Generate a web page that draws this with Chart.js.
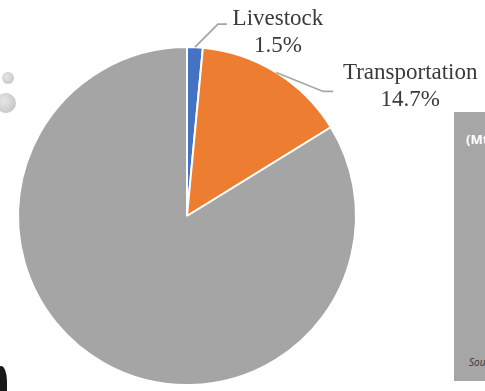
<!DOCTYPE html>
<html>
<head>
<meta charset="utf-8">
<script src="https://cdn.jsdelivr.net/npm/chart.js@4.4.1/dist/chart.umd.min.js"></script>
<style>
  html, body { margin: 0; padding: 0; background: #ffffff; }
  #wrap { position: relative; width: 485px; height: 391px; overflow: hidden; }
  #c { position: absolute; left: 0; top: 0; }
  .panel { position: absolute; left: 454px; top: 112px; width: 40px; height: 269px; background: #a6a6a6; }
  .panel .t1 { position: absolute; left: 12px; top: 18px; font: bold 13px "Open Sans", sans-serif; color: #ffffff; white-space: nowrap; }
  .panel .t2 { position: absolute; left: 15px; top: 243px; font: italic 10px "Open Sans", sans-serif; color: #333; white-space: nowrap; }
  .dot { position: absolute; border-radius: 50%; background: radial-gradient(circle at 40% 40%, #e6e6e6, #bdbdbd); }
  .blob { position: absolute; left: -5px; top: 366px; width: 12px; height: 30px; background: #1a1a1a; border-radius: 50% 50% 0 0; }
</style>
</head>
<body>
<div id="wrap">
  <div class="dot" style="left:2px;top:72px;width:12px;height:12px;"></div>
  <div class="dot" style="left:-4px;top:93px;width:20px;height:20px;"></div>
  <div class="blob"></div>
  <div class="panel"><div class="t1">(Mt</div><div class="t2">Sou</div></div>
  <canvas id="c" width="485" height="391"></canvas>
</div>
<script>
const categories = ["Livestock", "Transportation", "Other"];
const values = [1.5, 14.7, 83.8];
const labelTexts = ["1.5%", "14.7%", null];
const colors = ["#4472c4", "#ed7d31", "#a5a5a5"];

// leader/label placement relative to each slice's outer mid-point
const labelLayout = [
  { elbow: [23, -23], end: [32, -23], text: [83, -22] },
  { elbow: [47, 19], end: [57, 19], text: [134, 7] },
  null
];

const labelPlugin = {
  id: 'sliceLabels',
  afterDatasetsDraw(chart) {
    const ctx = chart.ctx;
    const meta = chart.getDatasetMeta(0);
    meta.data.forEach((arc, i) => {
      const lay = labelLayout[i];
      if (!lay) return;
      const p = arc.getProps(['x', 'y', 'startAngle', 'endAngle', 'outerRadius'], true);
      const mid = (p.startAngle + p.endAngle) / 2;
      const sx = p.x + Math.cos(mid) * p.outerRadius;
      const sy = p.y + Math.sin(mid) * p.outerRadius;
      ctx.save();
      ctx.strokeStyle = '#a6a6a6';
      ctx.lineWidth = 1.8;
      ctx.beginPath();
      ctx.moveTo(sx, sy);
      ctx.lineTo(sx + lay.elbow[0], sy + lay.elbow[1]);
      ctx.lineTo(sx + lay.end[0], sy + lay.end[1]);
      ctx.stroke();
      ctx.fillStyle = '#3a3a3a';
      ctx.font = '23px "Liberation Serif", "DejaVu Serif", serif';
      ctx.textAlign = 'center';
      ctx.textBaseline = 'alphabetic';
      const tx = sx + lay.text[0];
      const ty = sy + lay.text[1];
      ctx.fillText(categories[i], tx, ty);
      ctx.fillText(labelTexts[i], tx, ty + 27);
      ctx.restore();
    });
  }
};

new Chart(document.getElementById('c'), {
  type: 'pie',
  data: {
    labels: categories,
    datasets: [{
      data: values,
      backgroundColor: colors,
      borderColor: '#ffffff',
      borderWidth: 2
    }]
  },
  options: {
    responsive: false,
    animation: false,
    layout: { padding: { left: 17, top: 46, right: 128, bottom: 5 } },
    plugins: {
      legend: { display: false },
      tooltip: { enabled: false },
      title: { display: false }
    }
  },
  plugins: [labelPlugin]
});
</script>
</body>
</html>
